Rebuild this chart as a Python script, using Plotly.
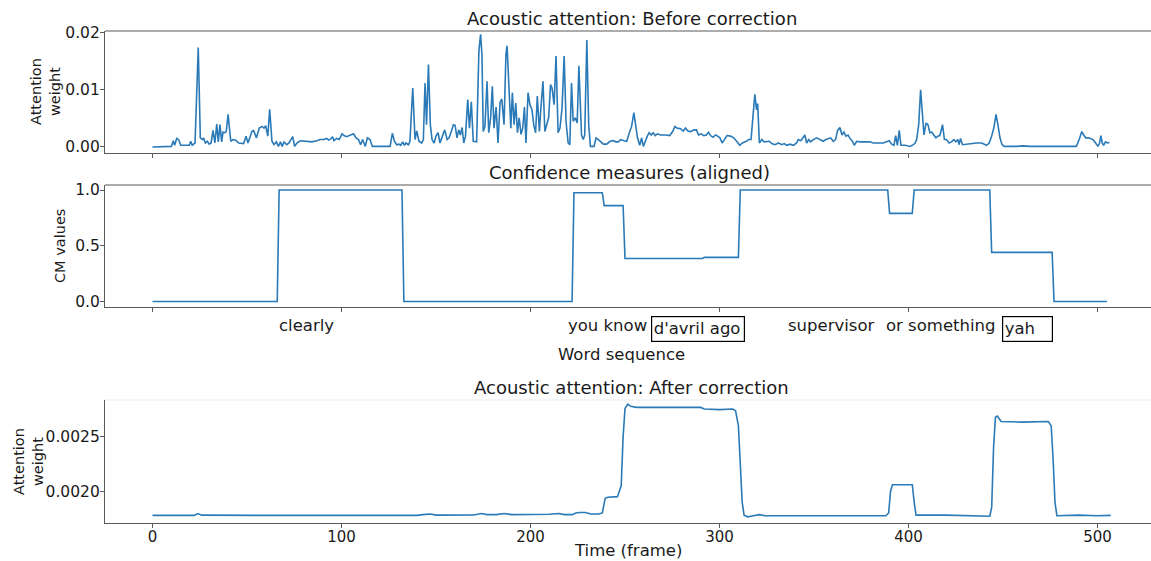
import plotly.graph_objects as go

# ---------------- data ----------------
# Top panel: acoustic attention before correction (frame, weight x 1e-3)
before_frames = [0, 10, 11, 11.7, 12.8, 13.8, 14.9, 19.5, 20.2, 21, 22.5, 24.2, 25.3, 26.4, 27, 28, 29, 30, 31, 32,
                 33, 34, 34.8, 35.7, 36.6, 37.3, 38.2, 39, 40, 41.4, 42.6, 44, 45.6, 48.2, 49.5, 50.5, 52.6, 53.5, 55, 56.5,
                 58, 59, 59.9, 61, 62, 63.2, 64.3, 65.5, 66.6, 67.7, 68.6, 69.6, 71, 72.2, 74.2, 75.2, 76.4, 77.7, 79, 81.6,
                 84.2, 87, 88.6, 90.7, 92.2, 93.2, 94.3, 95.3, 96, 97.4, 98.8, 100.3, 101.3, 102.7, 104.1, 105.6, 106.4, 107.7, 109, 110.1,
                 111.2, 112.6, 113.7, 115.1, 116.3, 125.7, 126.9, 128, 129.2, 130.4, 131.3, 132.4, 133.3, 134.1, 135.4, 136.2, 137.7, 138.9, 139.8, 141,
                 142.4, 143.3, 144.2, 145, 146, 147, 147.9, 149, 150, 151.1, 152.1, 153.4, 154.6, 155.9, 156.9, 158.1, 159.2, 160.1, 161.1, 162,
                 162.9, 163.8, 164.7, 165.6, 166.8, 167.7, 168.7, 169.7, 171.5, 172.7, 173.6, 174.3, 175, 175.9, 177, 177.9, 178.9, 179.8, 180.7, 181.8,
                 182.8, 183.9, 184.8, 186, 187, 187.6, 188.5, 189.6, 190.4, 191.3, 192.2, 193.1, 194, 195, 195.9, 196.8, 197.6, 198.7, 199.7, 200.8,
                 201.7, 202.7, 203.6, 204.7, 205.5, 206.6, 207.6, 208.5, 209.6, 210.6, 211.4, 212.5, 213.5, 214.6, 215.6, 216.7, 217.8, 218.8, 219.9, 220.8,
                 221.7, 222.6, 223.7, 224.7, 225.6, 227, 227.9, 228.7, 229.8, 230.8, 231.7, 233.6, 234.7, 235.9, 237.1, 238.6, 240.3, 242.1, 243.8, 245.2,
                 246.5, 247.7, 249.5, 250.9, 252.3, 253.5, 254.7, 255.7, 256.6, 257.8, 258.8, 259.7, 260.9, 261.8, 262.8, 263.9, 264.9, 266, 267.1, 268.8,
                 271.5, 273.7, 275.2, 276.4, 277.6, 279.4, 280.8, 282, 283.3, 284.7, 286.5, 287.8, 288.9, 290.3, 291.7, 293.1, 294.2, 295.2, 296.6, 297.9,
                 299.1, 300.2, 301.4, 302.6, 304, 305.8, 307.5, 309.3, 310.7, 312.1, 313.7, 315.5, 316.7, 317.8, 318.7, 319.6, 320.2, 321.1, 322.4, 323.6,
                 325, 326.4, 327.6, 329.4, 331.2, 332.9, 334.2, 335.6, 337.3, 339.1, 340.8, 341.7, 343, 344, 345.2, 346.1, 347.2, 348.2, 349.6, 351.4,
                 353.2, 354.9, 356.3, 357.6, 358.8, 360.2, 361.4, 362.5, 363.7, 364.8, 365.8, 366.9, 368, 369, 370.3, 371.3, 372.6, 374.3, 376.1, 377.8,
                 379.6, 381.3, 383.1, 384.9, 386.6, 388.4, 389.8, 391.1, 392.3, 393.2, 394.1, 395.1, 396, 398.2, 400.8, 402.6, 403.5, 404.3, 405.4, 406.4,
                 407.3, 408.2, 409.3, 410.3, 411.3, 412.4, 413.4, 414.5, 415.5, 416.6, 418, 419, 420.1, 421.5, 422.7, 424, 425, 426.1, 426.8, 427.5,
                 428.6, 430.7, 433.4, 436, 438.7, 441.3, 442.7, 444, 445.2, 446.3, 447.3, 448.4, 449.4, 450.5, 457.2, 460.7, 464.2, 469.5, 473, 476.5,
                 480, 483.5, 488.8, 490.3, 491.7, 492.7, 493.8, 495.2, 496.6, 497.6, 499, 500.2, 501.1, 501.8, 502.5, 503.2, 504.2, 505.3, 506.3]
before_weight_milli = [0, 0.1, 1.1, 0.3, 1.5, 1.3, 0.3, 0.3, 1.0, 0.3, 0.7, 17.4, 1.6, 1.3, 1.6, 0.7, 1.0, 0.5, 0.7, 2.9,
                       0.7, 4.0, 0.9, 3.9, 0.9, 2.6, 2.5, 2.7, 5.7, 1.0, 1.3, 1.2, 0.7, 0.6, 1.9, 0.7, 2.7, 2.9, 1.6, 3.3,
                       3.6, 3.3, 3.7, 1.9, 6.6, 1.0, 0.4, 0.9, 0.1, 0.9, 0.1, 0.9, 0.4, 0.7, 1.8, 0.1, 0.7, 1.0, 1.1, 1.0,
                       0.9, 1.1, 1.3, 1.3, 1.5, 1.2, 1.4, 1.8, 1.1, 1.5, 1.3, 2.3, 2.0, 1.8, 2.0, 2.2, 2.3, 1.6, 1.3, 0.4,
                       1.3, 0.1, 1.6, 1.3, 0.1, 0.1, 2.4, 1.0, 0.4, 0.5, 0.3, 0.9, 0.3, 0.7, 0.4, 1.0, 10.3, 1.3, 2.8, 1.0,
                       0.7, 1.3, 11.2, 3.9, 14.4, 3.9, 1.3, 0.7, 1.9, 2.5, 0.7, 1.9, 3.0, 1.3, 1.6, 2.7, 3.9, 3.8, 1.6, 3.0,
                       2.1, 3.4, 0.7, 1.9, 8.3, 3.3, 7.9, 1.0, 0.9, 16.8, 19.7, 16.2, 2.7, 3.6, 11.5, 2.5, 5.1, 10.6, 3.3, 7.0,
                       0.7, 7.8, 8.4, 3.9, 16.2, 17.7, 9.7, 3.3, 9.5, 3.9, 7.7, 2.5, 5.1, 2.2, 3.3, 7.0, 0.7, 9.5, 7.4, 6.5,
                       3.9, 2.5, 8.9, 2.7, 6.8, 11.5, 2.7, 3.9, 5.1, 10.9, 10.3, 7.4, 15.9, 2.5, 3.3, 6.8, 15.9, 4.5, 0.7, 0.4,
                       11.2, 4.5, 5.1, 4.2, 14.2, 2.1, 1.3, 2.1, 18.7, 3.9, 0.1, 0.1, 1.6, 1.3, 0.9, 0.5, 0.5, 1.0, 1.1, 0.9,
                       0.9, 1.3, 1.1, 1.0, 2.5, 3.6, 6.0, 3.9, 1.6, 0.3, 1.6, 0.1, 1.3, 1.9, 2.5, 2.1, 2.5, 2.0, 2.3, 2.1,
                       2.1, 2.0, 2.7, 3.6, 3.3, 3.2, 2.8, 3.3, 2.8, 2.7, 3.0, 3.0, 2.1, 2.3, 2.0, 2.1, 2.6, 2.0, 1.7, 2.1,
                       1.9, 1.6, 0.7, 1.3, 2.0, 1.9, 1.6, 0.9, 0.3, 0.7, 0.9, 1.3, 1.3, 5.7, 9.2, 6.5, 7.6, 0.7, 1.3, 0.9,
                       0.9, 1.0, 0.6, 0.4, 0.7, 0.4, 0.6, 0.3, 0.5, 0.3, 0.7, 1.3, 1.1, 1.6, 2.1, 0.7, 1.3, 0.9, 1.3, 1.6,
                       1.3, 1.0, 1.3, 1.5, 1.6, 1.0, 1.3, 2.9, 3.4, 2.1, 2.6, 1.9, 2.1, 1.5, 1.0, 0.3, 1.0, 0.9, 0.9, 0.8,
                       0.9, 0.7, 0.7, 0.6, 0.7, 0.9, 1.1, 0.5, 0.3, 2.0, 0.3, 2.9, 0.3, 0.3, 0.1, 0.4, 0.7, 1.3, 3.9, 10.0,
                       6.3, 2.1, 4.2, 3.9, 2.5, 2.6, 2.1, 1.6, 1.9, 2.0, 3.9, 1.3, 1.3, 0.7, 0.9, 1.3, 0.9, 1.3, 0.4, 1.5,
                       0.4, 0.5, 0.7, 0.7, 0.7, 0.3, 0.7, 1.9, 3.4, 5.7, 3.9, 1.6, 0.5, 0.1, 0.1, 0.2, 0.1, 0.1, 0.2, 0.2,
                       0.1, 0.2, 0.1, 1.3, 2.7, 2.1, 1.6, 1.6, 1.5, 1.3, 0.7, 0.1, 0.7, 2.0, 0.7, 0.3, 0.9, 0.7, 0.8]

# Middle panel: confidence measures aligned to frames (step vertices)
cm_frames = [0, 66, 67, 132, 133, 222, 223, 238, 239, 249, 250, 291, 292, 310, 311, 389, 390, 402, 403, 443, 444, 476, 477, 505]
cm_values = [0.0, 0.0, 1.0, 1.0, 0.0, 0.0, 0.975, 0.975, 0.86, 0.86, 0.385, 0.385, 0.395, 0.395, 1.0, 1.0, 0.79, 0.79,
             1.0, 1.0, 0.44, 0.44, 0.0, 0.0]

# Word sequence labels (centre frame)
words = ["clearly", "you know", "supervisor", "or something"]
word_frames = [81.7, 240.5, 359.0, 417.0]
boxed_words = ["d'avril ago", "yah"]
boxed_word_frames = [288.4, 462.7]
boxed_word_widths = [89, 46]

# Bottom panel: acoustic attention after correction
after_frames = [0, 22, 24, 26, 60, 140, 143, 147, 150, 160, 170, 174, 177, 182, 186, 190, 200, 205, 210, 215,
                218, 222, 224, 226, 229, 232, 236, 238, 239.5, 241, 246, 248, 249, 250, 251.5, 253, 256, 270, 290, 292,
                300, 307, 308.5, 310, 311, 312, 313, 315, 318, 321, 324, 350, 380, 388, 389.5, 390.5, 391.5, 400, 402, 403,
                404, 420, 440, 443, 444, 445, 446, 447, 449, 460, 474, 475.5, 476.5, 477.5, 478.5, 490, 500, 507]
after_weight = [0.001778, 0.001778, 0.001795, 0.001780, 0.001778, 0.001778, 0.001785, 0.001790, 0.001780, 0.001782,
                0.001782, 0.001795, 0.001785, 0.001785, 0.001795, 0.001785, 0.001785, 0.001790, 0.001788, 0.001795,
                0.001785, 0.001785, 0.001800, 0.001805, 0.001805, 0.001790, 0.001790, 0.001800, 0.001935, 0.001945,
                0.001950, 0.002050, 0.002500, 0.002760, 0.002800, 0.002780, 0.002770, 0.002770, 0.002770, 0.002755,
                0.002750, 0.002755, 0.002740, 0.002600, 0.002300, 0.001900, 0.001780, 0.001765, 0.001775, 0.001785,
                0.001775, 0.001775, 0.001775, 0.001775, 0.001800, 0.002000, 0.002060, 0.002065, 0.002060, 0.001900,
                0.001780, 0.001780, 0.001775, 0.001770, 0.001850, 0.002400, 0.002680, 0.002690, 0.002640, 0.002635,
                0.002640, 0.002600, 0.002300, 0.001900, 0.001775, 0.001780, 0.001775, 0.001778]

frame_ticks = [0, 100, 200, 300, 400, 500]
frame_tick_labels = ["0", "100", "200", "300", "400", "500"]

# ---------------- figure ----------------
W, H = 1151, 561
FONT = "DejaVu Sans"
TXT = "#1a1a1a"
SPINE = "#5a5a5a"
LINE = "#2a7ab8"

def py(pix):
    return (H - pix) / H

X0 = 105 / W
top_dom = [py(153), py(31)]
mid_dom = [py(307), py(185)]
bot_dom = [py(523), py(400)]
xr = [(105 - 152.5) / 1.89, (1151 - 152.5) / 1.89]

fig = go.Figure()
fig.add_trace(go.Scatter(x=before_frames, y=[v * 1e-3 for v in before_weight_milli], mode="lines",
                         line=dict(color=LINE, width=1.6), xaxis="x", yaxis="y", showlegend=False))
fig.add_trace(go.Scatter(x=cm_frames, y=cm_values, mode="lines",
                         line=dict(color=LINE, width=1.6), xaxis="x2", yaxis="y2", showlegend=False))
fig.add_trace(go.Scatter(x=after_frames, y=after_weight, mode="lines",
                         line=dict(color=LINE, width=1.6), xaxis="x3", yaxis="y3", showlegend=False))

common_x = dict(range=xr, domain=[X0, 1], tickmode="array", tickvals=frame_ticks, ticks="outside", ticklen=4,
                tickcolor=SPINE, tickwidth=1, showline=True, linecolor=SPINE, linewidth=1.2, showgrid=False,
                zeroline=False, automargin=False, tickfont=dict(family=FONT, size=15, color=TXT))
common_y = dict(ticks="outside", ticklen=4, tickcolor=SPINE, tickwidth=1, showline=True, linecolor=SPINE,
                linewidth=1.2, showgrid=False, zeroline=False, automargin=False, tickmode="array",
                ticklabelstandoff=-3, tickfont=dict(family=FONT, size=15.5, color=TXT))

fig.update_layout(
    width=W, height=H, margin=dict(l=0, r=0, t=0, b=0),
    paper_bgcolor="white", plot_bgcolor="white",
    xaxis=dict(common_x, anchor="y", showticklabels=False),
    yaxis=dict(common_y, anchor="x", domain=top_dom, range=[-0.00105, 0.02028],
               tickvals=[0, 0.01, 0.02], ticktext=["0.00", "0.01", "0.02"]),
    xaxis2=dict(common_x, anchor="y2", showticklabels=False),
    yaxis2=dict(common_y, anchor="x2", domain=mid_dom, range=[-0.05, 1.045],
                tickvals=[0, 0.5, 1.0], ticktext=["0.0", "0.5", "1.0"]),
    xaxis3=dict(common_x, anchor="y3", showticklabels=True, ticktext=frame_tick_labels, ticklabelstandoff=-4),
    yaxis3=dict(common_y, anchor="x3", domain=bot_dom, range=[0.001708, 0.002838],
                tickvals=[0.0020, 0.0025], ticktext=["0.0020", "0.0025"]),
)

# top spines
shapes = []
for dom, col in [(top_dom, SPINE), (mid_dom, SPINE), (bot_dom, "#ececec")]:
    shapes.append(dict(type="line", xref="paper", yref="paper", x0=X0, x1=1, y0=dom[1], y1=dom[1],
                       line=dict(color=col, width=1.2)))
fig.update_layout(shapes=shapes)

ann = []
def text(x, y, s, size, **kw):
    ann.append(dict(x=x, y=y, xref="paper", yref="paper", text=s, showarrow=False,
                    font=dict(family=FONT, size=size, color=TXT), xanchor="center", yanchor="middle", **kw))

text(631.5 / W, py(18), "Acoustic attention: Before correction", 18)
text(629.5 / W, py(172), "Confidence measures (aligned)", 18)
text(631.5 / W, py(387), "Acoustic attention: After correction", 18)
text(621 / W, py(354), "Word sequence", 16.5)
text(628 / W, py(550), "Time (frame)", 16.5)
text(46 / W, py(92), "Attention<br>weight", 14.5, textangle=-90)
text(60 / W, py(246), "CM values", 14.5, textangle=-90)
text(28 / W, py(462), "Attention<br>weight", 14.5, textangle=-90)

for w, f in zip(words, word_frames):
    ann.append(dict(x=f, y=py(325), xref="x2", yref="paper", text=w, showarrow=False,
                    font=dict(family=FONT, size=16.5, color=TXT), xanchor="center", yanchor="middle"))
for w, f, bw in zip(boxed_words, boxed_word_frames, boxed_word_widths):
    ann.append(dict(x=f, y=py(328.5), xref="x2", yref="paper", text=w, showarrow=False,
                    font=dict(family=FONT, size=16.5, color=TXT), xanchor="center", yanchor="middle",
                    width=bw, height=21, align="left", valign="top", bordercolor="#000000", borderwidth=1.2,
                    borderpad=1.5))

fig.update_layout(annotations=ann)
fig.write_html("out.html")
